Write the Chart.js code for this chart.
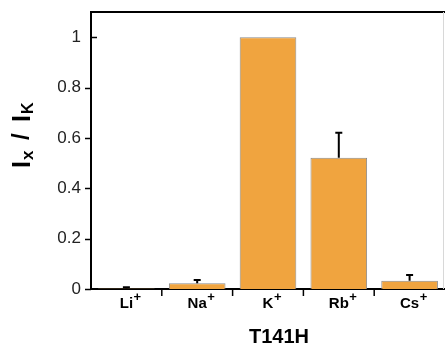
<!DOCTYPE html>
<html>
<head>
<meta charset="utf-8">
<script src="https://cdn.jsdelivr.net/npm/chart.js@4.4.1/dist/chart.umd.min.js"></script>
<style>
  html, body { margin: 0; padding: 0; background: #fff; }
  #wrap { width: 445px; height: 346px; position: relative; }
</style>
</head>
<body>
<div id="wrap"><canvas id="grafico"></canvas></div>
<script>
const ions     = ['Li', 'Na', 'K', 'Rb', 'Cs'];
const ratio    = [0.002, 0.023, 1.0, 0.521, 0.033];
const erroSup  = [0.005, 0.013, 0, 0.099, 0.023];
const yTicks   = [0, 0.2, 0.4, 0.6, 0.8, 1];
const yMax     = 1.1;
const mutante  = 'T141H';

const FONTE   = '"Liberation Sans", Arial, sans-serif';
const LARANJA = '#F0A43F';

// eixos, ticks, barras de erro e rótulos com sobrescrito/subscrito
const desenhoExtra = {
  id: 'desenhoExtra',
  afterDraw(chart) {
    const c = chart.ctx;
    const { left, right, top, bottom } = chart.chartArea;
    const x = chart.scales.x;
    const y = chart.scales.y;
    c.save();

    // moldura superior
    c.strokeStyle = '#000';
    c.lineWidth = 2;
    c.beginPath();
    c.moveTo(left - 1, top);
    c.lineTo(right, top);
    c.stroke();

    // linha clara à direita
    c.strokeStyle = '#d8d8d8';
    c.lineWidth = 1;
    c.beginPath();
    c.moveTo(right - 1.5, top);
    c.lineTo(right - 1.5, bottom);
    c.stroke();

    // ticks do eixo y
    c.strokeStyle = '#000';
    c.lineWidth = 1.5;
    yTicks.forEach(v => {
      const py = Math.round(y.getPixelForValue(v)) + 0.5;
      c.beginPath();
      if (v >= 1) { c.moveTo(left, py); c.lineTo(left + 6, py); }
      else        { c.moveTo(left - 6, py); c.lineTo(left, py); }
      c.stroke();
    });

    // ticks do eixo x entre categorias
    for (let i = 0; i < ions.length - 1; i++) {
      const px = (x.getPixelForValue(i) + x.getPixelForValue(i + 1)) / 2;
      c.beginPath();
      c.moveTo(px, bottom);
      c.lineTo(px, bottom + 7);
      c.stroke();
    }

    // barras de erro (só para cima)
    const meta = chart.getDatasetMeta(0);
    c.lineWidth = 2;
    meta.data.forEach((bar, i) => {
      if (!erroSup[i]) return;
      const y0 = y.getPixelForValue(ratio[i]);
      const y1 = y.getPixelForValue(ratio[i] + erroSup[i]);
      c.beginPath();
      c.moveTo(bar.x, y0);
      c.lineTo(bar.x, y1);
      c.moveTo(bar.x - 3.5, y1);
      c.lineTo(bar.x + 3.5, y1);
      c.stroke();
    });

    // rótulos das categorias com "+"
    c.fillStyle = '#000';
    c.textBaseline = 'alphabetic';
    ions.forEach((nome, i) => {
      const px = x.getPixelForValue(i);
      c.font = `bold 15px ${FONTE}`;
      const w = c.measureText(nome).width;
      c.textAlign = 'left';
      c.fillText(nome, px - w / 2, 308);
      c.font = `bold 13px ${FONTE}`;
      c.fillText('+', px + w / 2 + 0.5, 301);
    });

    // título do eixo x
    c.font = `bold 20px ${FONTE}`;
    c.textAlign = 'center';
    c.fillText(mutante, 279, 343);

    // título do eixo y: I_x / I_K
    c.translate(30, 168);
    c.rotate(-Math.PI / 2);
    c.textAlign = 'left';
    const partes = [
      { t: 'I', f: 25, dy: 0, at: 0 },
      { t: 'x', f: 17, dy: 3, at: 8 },
      { t: '/', f: 24, dy: -1, at: 28 },
      { t: 'I', f: 25, dy: 0, at: 46 },
      { t: 'K', f: 16, dy: 3, at: 54 }
    ];
    partes.forEach(p => {
      c.font = `bold ${p.f}px ${FONTE}`;
      c.fillText(p.t, p.at, p.dy);
    });

    c.restore();
  }
};

const ctx = document.getElementById('grafico').getContext('2d');
new Chart(ctx, {
  type: 'bar',
  data: {
    labels: ions,
    datasets: [{
      data: ratio,
      backgroundColor: LARANJA,
      borderColor: '#8a8a8a',
      borderWidth: 1,
      categoryPercentage: 0.8,
      barPercentage: 1.0
    }]
  },
  options: {
    responsive: true,
    maintainAspectRatio: false,
    animation: false,
    layout: { padding: { top: 12, right: 0, left: 0, bottom: 0 } },
    plugins: {
      legend: { display: false },
      tooltip: { enabled: false }
    },
    scales: {
      x: {
        ticks: { display: false },
        grid: { display: false },
        border: { display: true, color: '#000', width: 2 },
        afterFit(scale) { scale.height = 57; }
      },
      y: {
        min: 0,
        max: yMax,
        afterBuildTicks(scale) { scale.ticks = yTicks.map(v => ({ value: v })); },
        ticks: {
          padding: 10,
          color: '#222',
          font: { family: FONTE, size: 17 },
          callback: v => String(+Number(v).toFixed(1))
        },
        grid: { display: false, drawTicks: false },
        border: { display: true, color: '#000', width: 2 },
        afterFit(scale) {
          scale.width = 91;
          scale.paddingTop = 0;
          scale.paddingBottom = 0;
        }
      }
    }
  },
  plugins: [desenhoExtra]
});
</script>
</body>
</html>
